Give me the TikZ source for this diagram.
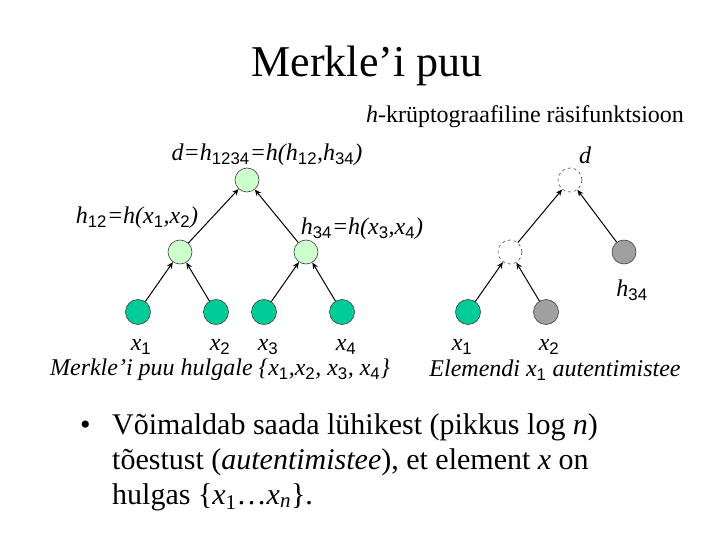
\documentclass[tikz,border=0pt]{standalone}
\usepackage{fontspec}
\setmainfont{Liberation Serif}
\newfontfamily\sansf{Liberation Sans}
\usetikzlibrary{arrows.meta}
\definecolor{lightgr}{RGB}{204,255,204}
\definecolor{leafgr}{RGB}{0,204,153}
\definecolor{grayn}{RGB}{160,160,160}
\newcommand{\Sb}[1]{\textsubscript{\sansf\upshape #1}}
\begin{document}
\begin{tikzpicture}[x=1pt,y=-1pt,
  nd/.style={circle,draw=black!75,line width=0.6pt,minimum size=24pt,inner sep=0pt},
  hnode/.style={nd,fill=lightgr},
  leaf/.style={nd,fill=leafgr,minimum size=25pt},
  gnode/.style={nd,fill=grayn},
  dnode/.style={nd,dashed,draw=black!70},
  arr/.style={-{Stealth[length=6.5pt,width=5.5pt]},line width=1pt},
  lab/.style={font=\fontsize{24}{28}\selectfont\itshape,inner sep=0pt},
  txt/.style={font=\fontsize{30}{35}\selectfont,inner sep=0pt,anchor=base west}]
\useasboundingbox (0,0) rectangle (720,540);
% title
\node[font=\fontsize{44}{52}\selectfont,inner sep=0pt] (title) at (367,66) {Merkle’i puu};
\node[font=\fontsize{24}{28}\selectfont,inner sep=0pt] (sub) at (525,117) {\textit{h}-krüptograafiline räsifunktsioon};
% left tree
\node[hnode] (r) at (247,180) {};
\node[hnode] (a) at (180,252) {};
\node[hnode] (b) at (306,252) {};
\node[leaf] (x1) at (138,312) {};
\node[leaf] (x2) at (216,312) {};
\node[leaf] (x3) at (264,312) {};
\node[leaf] (x4) at (342,312) {};
\draw[arr] (a) -- (r);
\draw[arr] (b) -- (r);
\draw[arr] (x1) -- (a);
\draw[arr] (x2) -- (a);
\draw[arr] (x3) -- (b);
\draw[arr] (x4) -- (b);
% right tree
\node[dnode] (rr) at (570,180) {};
\node[dnode] (ra) at (510,252) {};
\node[gnode] (rb) at (624,252) {};
\node[leaf] (y1) at (468,312) {};
\node[gnode,minimum size=25pt] (y2) at (546,312) {};
\draw[arr] (ra) -- (rr);
\draw[arr] (rb) -- (rr);
\draw[arr] (y1) -- (ra);
\draw[arr] (y2) -- (ra);
% labels
\node[lab] (ld) at (267,155) {d=h\Sb{1234}=h(h\Sb{12},h\Sb{34})};
\node[lab] (rd) at (585,155) {d};
\node[lab] (lh12) at (137,218) {h\Sb{12}=h(x\Sb{1},x\Sb{2})};
\node[lab] (lh34) at (362,229) {h\Sb{34}=h(x\Sb{3},x\Sb{4})};
\node[lab] (rh34) at (632,290) {h\Sb{34}};
\node[lab] (lx1) at (141,347) {x\Sb{1}};
\node[lab] (lx2) at (220,347) {x\Sb{2}};
\node[lab] (lx3) at (268,347) {x\Sb{3}};
\node[lab] (lx4) at (346,347) {x\Sb{4}};
\node[lab] (cap1) at (220,370) {Merkle’i puu hulgale \{x\Sb{1},x\Sb{2}, x\Sb{3}, x\Sb{4}\}};
\node[lab] (ry1) at (462,347) {x\Sb{1}};
\node[lab] (ry2) at (549,347) {x\Sb{2}};
\node[lab] (cap2) at (555,370) {Elemendi x\Sb{1} autentimistee};
% bullets
\node[txt] (bul) at (80,434) {•};
\node[txt] (t1) at (112,434) {Võimaldab saada lühikest (pikkus log \textit{n})};
\node[txt] (t2) at (112,469) {tõestust (\textit{autentimistee}), et element \textit{x} on};
\node[txt] (t3) at (112,504) {hulgas \{\textit{x}\textsubscript{1}…\textit{x}\textsubscript{\textit{n}}\}.};
\end{tikzpicture}
\end{document}
